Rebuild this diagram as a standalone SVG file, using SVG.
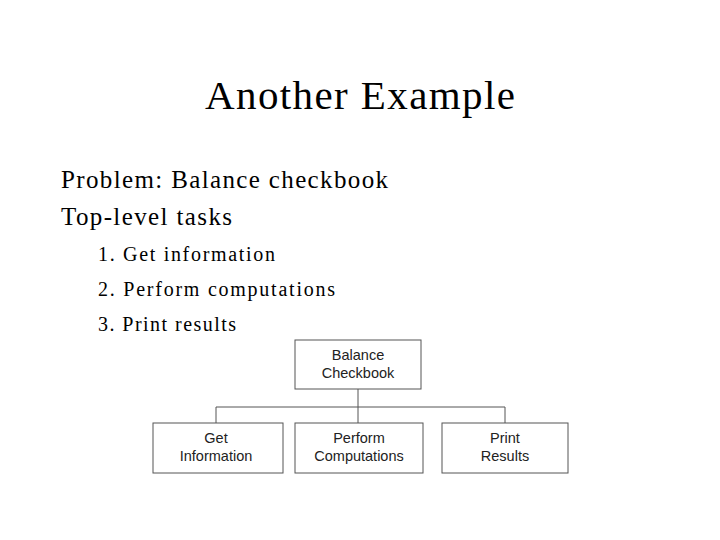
<svg xmlns="http://www.w3.org/2000/svg" width="720" height="540" viewBox="0 0 720 540">
<style>
.t{font-family:"Liberation Serif",serif;fill:#000}
.b{fill:#fff;stroke:#555;stroke-width:1}
.n{font-family:"Liberation Sans",sans-serif;font-size:14.5px;fill:#222;text-anchor:middle}
.c{stroke:#555;stroke-width:1;fill:none}
</style>
<rect width="720" height="540" fill="#fff"/>
<text class="t" x="205" y="109" font-size="41" textLength="310" lengthAdjust="spacing">Another Example</text>
<text class="t" x="61" y="188" font-size="25" textLength="327" lengthAdjust="spacing">Problem: Balance checkbook</text>
<text class="t" x="61" y="225" font-size="25" textLength="171" lengthAdjust="spacing">Top-level tasks</text>
<text class="t" x="98" y="261" font-size="20" textLength="177" lengthAdjust="spacing">1. Get information</text>
<text class="t" x="98" y="296" font-size="20" textLength="237" lengthAdjust="spacing">2. Perform computations</text>
<text class="t" x="98" y="331" font-size="20" textLength="138" lengthAdjust="spacing">3. Print results</text>
<g id="connectors">
<path class="c" d="M358 389V423M216 407H505M216 407V423M505 407V423"/>
</g>
<g id="balance"><rect class="b" x="295" y="340" width="126" height="49"/><text class="n" x="358" y="360">Balance</text><text class="n" x="358" y="378">Checkbook</text></g>
<g id="get"><rect class="b" x="153" y="423" width="130" height="50"/><text class="n" x="216" y="443">Get</text><text class="n" x="216" y="461">Information</text></g>
<g id="perform"><rect class="b" x="295" y="423" width="128" height="50"/><text class="n" x="359" y="443">Perform</text><text class="n" x="359" y="461">Computations</text></g>
<g id="print"><rect class="b" x="442" y="423" width="126" height="50"/><text class="n" x="505" y="443">Print</text><text class="n" x="505" y="461">Results</text></g>
</svg>
